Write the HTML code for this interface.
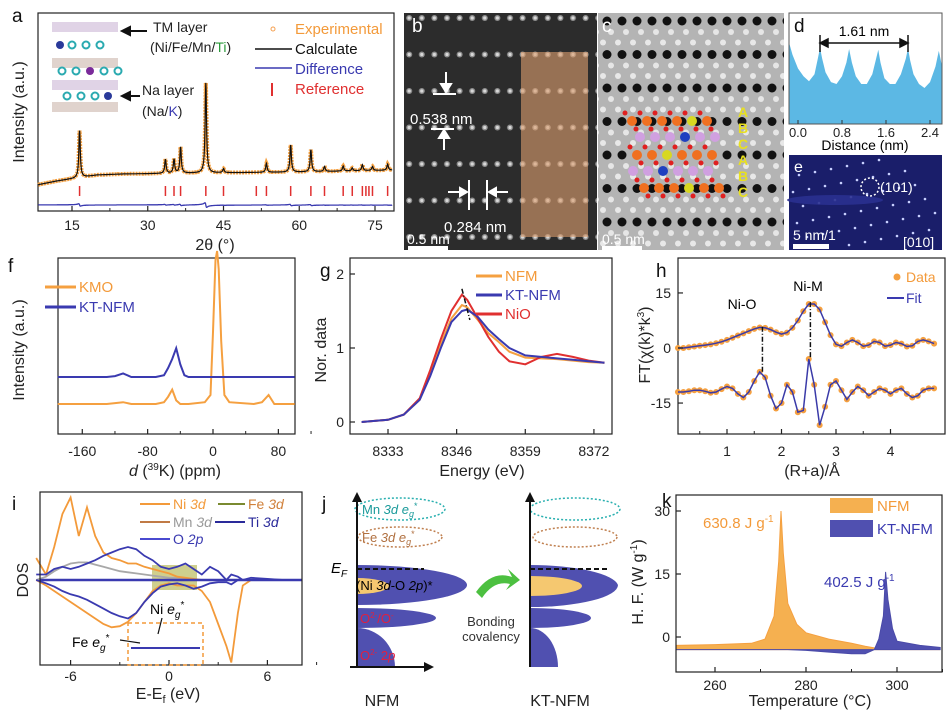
<!DOCTYPE html>
<html><head><meta charset="utf-8"><style>
html,body{margin:0;padding:0;background:#fff;}
svg{display:block;font-family:"Liberation Sans",Arial,sans-serif;}
.t{font-size:14px;fill:#222;}
.lab{font-size:16px;fill:#222;}
.pl{font-size:19px;fill:#111;}
</style></head><body>
<svg id="fig" xmlns="http://www.w3.org/2000/svg" width="950" height="720" viewBox="0 0 950 720">
<defs>
<pattern id="bdots" x="0" y="0" width="12.6" height="36.5" patternUnits="userSpaceOnUse"><circle cx="6" cy="18" r="3" fill="#8f8f8f"/><circle cx="6" cy="18" r="1.6" fill="#d8d8d8"/></pattern>
<pattern id="cdots" x="0" y="4" width="15" height="33.5" patternUnits="userSpaceOnUse"><circle cx="7" cy="17" r="4.5" fill="#111"/><circle cx="3" cy="5" r="3" fill="#e8e8e8"/><circle cx="11" cy="28" r="3" fill="#e6e6e6"/></pattern>
</defs>

<!-- ============ Panel a ============ -->
<g>
<text class="pl" x="12" y="22">a</text>
<rect x="38" y="13" width="356" height="198" fill="none" stroke="#222" stroke-width="1.2"/>
<g id="aMarks"></g>
<text class="lab" transform="translate(24,112) rotate(-90)" text-anchor="middle">Intensity (a.u.)</text>
<text class="lab" x="215" y="250" text-anchor="middle">2θ (°)</text>
<g>
<rect x="52" y="22" width="66" height="10" fill="#d8c8e0" opacity="0.8"/>
<rect x="52" y="58" width="66" height="10" fill="#d8c8c0" opacity="0.8"/>
<rect x="52" y="80" width="66" height="10" fill="#d8c8e0" opacity="0.8"/>
<rect x="52" y="102" width="66" height="10" fill="#d8c8c0" opacity="0.8"/>
<g fill="none" stroke="#2aaab0" stroke-width="2">
<circle cx="72" cy="45" r="3.5"/><circle cx="86" cy="45" r="3.5"/><circle cx="100" cy="45" r="3.5"/>
<circle cx="62" cy="71" r="3.5"/><circle cx="76" cy="71" r="3.5"/><circle cx="104" cy="71" r="3.5"/><circle cx="118" cy="71" r="3.5"/>
<circle cx="67" cy="96" r="3.5"/><circle cx="81" cy="96" r="3.5"/><circle cx="95" cy="96" r="3.5"/></g>
<circle cx="60" cy="45" r="4" fill="#2a3a9a"/><circle cx="90" cy="71" r="4" fill="#7a2a9a"/><circle cx="108" cy="96" r="4" fill="#2a3a9a"/>
</g>
<g stroke="#111" stroke-width="2">
<line x1="147" y1="31" x2="128" y2="31"/><polygon points="122,31 130,27 130,35" fill="#111"/>
<line x1="140" y1="96" x2="128" y2="96"/><polygon points="122,96 130,92 130,100" fill="#111"/>
</g>
<text class="t" x="153" y="32" style="font-size:14px">TM layer</text>
<text class="t" x="150" y="52" style="font-size:14px">(Ni/Fe/Mn/<tspan fill="#2a9a3a">Ti</tspan>)</text>
<text class="t" x="142" y="95" style="font-size:14px">Na layer</text>
<text class="t" x="142" y="116" style="font-size:14px">(Na/<tspan fill="#3a3ab0">K</tspan>)</text>
<g style="font-size:15px">
<circle cx="273" cy="29" r="2" fill="none" stroke="#f5a050"/>
<text x="295" y="34" fill="#f39a3a">Experimental</text>
<line x1="255" y1="49" x2="292" y2="49" stroke="#111" stroke-width="1.5"/>
<text x="295" y="54" fill="#111">Calculate</text>
<line x1="255" y1="68" x2="292" y2="68" stroke="#3a3ab0" stroke-width="1.5"/>
<text x="295" y="74" fill="#3a3ab0">Difference</text>
<line x1="272" y1="83" x2="272" y2="96" stroke="#e03030" stroke-width="2"/>
<text x="295" y="94" fill="#e03030">Reference</text>
</g>
</g>

<!-- ============ Panel b ============ -->
<g>
<rect x="404" y="13" width="193" height="237" fill="#2c2c2c"/>
<rect x="404" y="13" width="193" height="237" fill="url(#bdots)"/>
<rect x="521" y="52" width="67" height="185" fill="#e0a070" opacity="0.6"/>
<text class="pl" x="412" y="32" fill="#fff" style="fill:#fff">b</text>
<g stroke="#fff" stroke-width="2" fill="#fff">
<line x1="446" y1="72" x2="446" y2="88"/><polygon points="441,84 451,84 446,92"/>
<line x1="433" y1="94" x2="456" y2="94"/>
<line x1="431" y1="129" x2="454" y2="129"/>
<line x1="444" y1="150" x2="444" y2="136"/><polygon points="439,138 449,138 444,130"/>
<line x1="469" y1="180" x2="469" y2="210"/><line x1="487" y1="180" x2="487" y2="210"/>
<line x1="448" y1="192" x2="462" y2="192"/><polygon points="460,188 460,196 467,192"/>
<line x1="508" y1="192" x2="494" y2="192"/><polygon points="496,188 496,196 489,192"/>
</g>
<text x="410" y="124" fill="#fff" style="font-size:15px">0.538 nm</text>
<text x="444" y="232" fill="#fff" style="font-size:15px">0.284 nm</text>
<text x="407" y="244" fill="#fff" style="font-size:14px">0.5 nm</text>
<rect x="408" y="246" width="40" height="4" fill="#fff"/>
</g>

<!-- ============ Panel c ============ -->
<g>
<rect x="598" y="13" width="186" height="237" fill="#b4b4b4"/>
<rect x="598" y="13" width="186" height="237" fill="url(#cdots)"/>
<g id="cAtoms"></g>
<g fill="#e8e020" style="font-size:14px;font-weight:bold">
<text x="738" y="117">A</text><text x="738" y="133">B</text><text x="738" y="149">C</text><text x="738" y="165">A</text><text x="738" y="181">B</text><text x="738" y="197">C</text></g>
<text class="pl" x="602" y="32" style="fill:#fff">c</text>
<text x="602" y="244" fill="#fff" style="font-size:14px">0.5 nm</text>
<rect x="602" y="246" width="40" height="4" fill="#fff"/>
</g>

<!-- ============ Panel d ============ -->
<g>
<g id="dMarks"></g>
<rect x="789" y="13" width="153" height="111" fill="none" stroke="#555" stroke-width="1"/>
<text class="pl" x="794" y="32">d</text>
<g stroke="#111" stroke-width="1.5" fill="#111">
<line x1="822" y1="43" x2="906" y2="43"/><polygon points="820,43 828,39 828,47"/><polygon points="908,43 900,39 900,47"/>
<line x1="820" y1="35" x2="820" y2="52"/><line x1="908" y1="35" x2="908" y2="52"/></g>
<text x="864" y="36" text-anchor="middle" style="font-size:14px">1.61 nm</text>
<g id="dTicks" class="t" style="font-size:13px"></g>
<text x="865" y="150" text-anchor="middle" style="font-size:14px">Distance (nm)</text>
</g>

<!-- ============ Panel e ============ -->
<g>
<rect x="789" y="155" width="153" height="95" fill="#1a1e6a"/>
<g id="eSpots"></g>
<ellipse cx="835" cy="200" rx="48" ry="5" fill="#2a3090" opacity="0.9"/>
<circle cx="870" cy="187" r="9" fill="none" stroke="#fff" stroke-width="1.5" stroke-dasharray="2,2"/>
<text x="880" y="192" fill="#fff" style="font-size:14px">(101)</text>
<text class="pl" x="794" y="172" style="fill:#fff;font-size:16px">e</text>
<text x="793" y="240" fill="#fff" style="font-size:14px">5 nm/1</text>
<rect x="793" y="244" width="36" height="5" fill="#fff"/>
<text x="903" y="247" fill="#fff" style="font-size:14px">[010]</text>
</g>

<!-- ============ Panel f ============ -->
<g>
<text class="pl" x="8" y="272">f</text>
<rect x="58" y="258" width="237" height="176" fill="none" stroke="#222" stroke-width="1.2"/>
<g id="fMarks"></g>
<text class="lab" transform="translate(24,350) rotate(-90)" text-anchor="middle">Intensity (a.u.)</text>
<text class="lab" x="175" y="476" text-anchor="middle"><tspan font-style="italic">d</tspan> (<tspan dy="-6" style="font-size:10px">39</tspan><tspan dy="6">K) (ppm)</tspan></text>
<line x1="45" y1="287" x2="76" y2="287" stroke="#f5a040" stroke-width="3"/>
<text x="79" y="292" fill="#f39a3a" style="font-size:15px">KMO</text>
<line x1="45" y1="307" x2="76" y2="307" stroke="#3a3ab0" stroke-width="3"/>
<text x="79" y="312" fill="#3a3ab0" style="font-size:15px">KT-NFM</text>
</g>

<!-- ============ Panel g ============ -->
<g>
<text class="pl" x="320" y="277">g</text>
<rect x="350" y="258" width="262" height="176" fill="none" stroke="#222" stroke-width="1.2"/>
<g id="gMarks"></g>
<text class="lab" transform="translate(326,350) rotate(-90)" text-anchor="middle">Nor. data</text>
<text class="lab" x="482" y="476" text-anchor="middle">Energy (eV)</text>
<line x1="476" y1="276" x2="502" y2="276" stroke="#f5a040" stroke-width="3"/>
<text x="505" y="281" fill="#f39a3a" style="font-size:15px">NFM</text>
<line x1="476" y1="295" x2="502" y2="295" stroke="#3a3ab0" stroke-width="3"/>
<text x="505" y="300" fill="#3a3ab0" style="font-size:15px">KT-NFM</text>
<line x1="476" y1="314" x2="502" y2="314" stroke="#e03030" stroke-width="3"/>
<text x="505" y="319" fill="#e03030" style="font-size:15px">NiO</text>
</g>

<!-- ============ Panel h ============ -->
<g>
<text class="pl" x="656" y="277">h</text>
<rect x="678" y="258" width="267" height="176" fill="none" stroke="#222" stroke-width="1.2"/>
<g id="hMarks"></g>
<text class="lab" transform="translate(650,345) rotate(-90)" text-anchor="middle">FT(χ(k)*k<tspan dy="-6" style="font-size:10px">3</tspan><tspan dy="6">)</tspan></text>
<text class="lab" x="812" y="476" text-anchor="middle">(R+a)/Å</text>
<text x="742" y="309" text-anchor="middle" style="font-size:14px">Ni-O</text>
<text x="808" y="291" text-anchor="middle" style="font-size:14px">Ni-M</text>
<circle cx="897" cy="277" r="3.5" fill="#f5a040"/>
<text x="906" y="282" fill="#f39a3a" style="font-size:14px">Data</text>
<line x1="887" y1="298" x2="904" y2="298" stroke="#3a3ab0" stroke-width="2"/>
<text x="906" y="303" fill="#3a3ab0" style="font-size:14px">Fit</text>
</g>

<!-- ============ Panel i ============ -->
<g>
<text class="pl" x="12" y="510">i</text>
<rect x="152" y="565" width="45" height="25" fill="#a8a830" opacity="0.55"/>
<g id="iMarks"></g>
<rect x="40" y="492" width="262" height="173" fill="none" stroke="#222" stroke-width="1.2"/>
<rect x="128" y="623" width="75" height="42" fill="none" stroke="#f39a3a" stroke-width="1.5" stroke-dasharray="4,3"/>
<line x1="131" y1="648" x2="200" y2="648" stroke="#3a3ab0" stroke-width="2"/>
<text class="lab" transform="translate(28,580) rotate(-90)" text-anchor="middle">DOS</text>
<text class="lab" x="168" y="699" text-anchor="middle">E-E<tspan dy="4" style="font-size:11px">f</tspan><tspan dy="-4"> (eV)</tspan></text>
<text x="150" y="614" style="font-size:14px">Ni <tspan font-style="italic">e</tspan><tspan dy="4" style="font-size:10px" font-style="italic">g</tspan><tspan dy="-10" style="font-size:10px">*</tspan></text>
<text x="72" y="647" style="font-size:14px">Fe <tspan font-style="italic">e</tspan><tspan dy="4" style="font-size:10px" font-style="italic">g</tspan><tspan dy="-10" style="font-size:10px">*</tspan></text>
<line x1="162" y1="618" x2="158" y2="634" stroke="#111" stroke-width="1.2"/>
<line x1="120" y1="640" x2="140" y2="643" stroke="#111" stroke-width="1.2"/>
<g style="font-size:14px">
<line x1="140" y1="504" x2="170" y2="504" stroke="#f39a3a" stroke-width="2"/><text x="173" y="509" fill="#f39a3a">Ni <tspan font-style="italic">3d</tspan></text>
<line x1="218" y1="504" x2="245" y2="504" stroke="#7a8a30" stroke-width="2"/><text x="248" y="509" fill="#d0803a">Fe <tspan font-style="italic">3d</tspan></text>
<line x1="140" y1="522" x2="170" y2="522" stroke="#c07a45" stroke-width="2"/><text x="173" y="527" fill="#999">Mn <tspan font-style="italic">3d</tspan></text>
<line x1="215" y1="522" x2="245" y2="522" stroke="#2a2a9a" stroke-width="2"/><text x="248" y="527" fill="#2a2a9a">Ti <tspan font-style="italic">3d</tspan></text>
<line x1="140" y1="539" x2="170" y2="539" stroke="#4a4ad0" stroke-width="2"/><text x="173" y="544" fill="#3a3ab0">O <tspan font-style="italic">2p</tspan></text>
</g>
</g>

<!-- ============ Panel j ============ -->
<g>
<text class="pl" x="322" y="510">j</text>
<g>
<path d="M357,565 A110,20 0 0 1 467,585 A110,20 0 0 1 357,605 Z" fill="#5050b0"/>
<path d="M357,578 A32,8 0 0 1 389,586 A32,8 0 0 1 357,594 Z" fill="#f5c870"/>
<path d="M357,608 A79,10 0 0 1 436,618 A79,10 0 0 1 357,628 Z" fill="#5050b0"/>
<path d="M357,628 A38,39 0 0 1 395,667 L357,667 Z" fill="#5050b0"/>
<ellipse cx="400" cy="509" rx="45" ry="11" fill="none" stroke="#2ab0b0" stroke-width="1.5" stroke-dasharray="2,2"/>
<ellipse cx="400" cy="537" rx="42" ry="10" fill="none" stroke="#c08050" stroke-width="1.5" stroke-dasharray="2,2"/>
<line x1="357" y1="569" x2="424" y2="569" stroke="#111" stroke-width="2" stroke-dasharray="5,3"/>
<line x1="357" y1="667" x2="357" y2="498" stroke="#111" stroke-width="2"/><polygon points="357,492 352,502 362,502" fill="#111"/>
<line x1="350" y1="667" x2="428" y2="667" stroke="#111" stroke-width="2"/><polygon points="434,667 424,662 424,672" fill="#111"/>
<text x="362" y="514" fill="#1a9a9a" style="font-size:13px">Mn <tspan font-style="italic">3d e</tspan><tspan dy="3" style="font-size:9px" font-style="italic">g</tspan><tspan dy="-8" style="font-size:9px">*</tspan></text>
<text x="362" y="542" fill="#b07040" style="font-size:13px">Fe <tspan font-style="italic">3d e</tspan><tspan dy="3" style="font-size:9px" font-style="italic">g</tspan><tspan dy="-8" style="font-size:9px">*</tspan></text>
<text x="331" y="573" style="font-size:15px;font-style:italic">E<tspan dy="4" style="font-size:10px">F</tspan></text>
<text x="356" y="590" style="font-size:13px">(Ni <tspan font-style="italic">3d</tspan>-O <tspan font-style="italic">2p</tspan>)*</text>
<text x="360" y="623" fill="#e02040" style="font-size:13px">O<tspan dy="-5" style="font-size:8px">2-</tspan><tspan dy="5">/O</tspan><tspan dy="-5" style="font-size:8px">-</tspan></text>
<text x="360" y="660" fill="#e02040" style="font-size:13px">O<tspan dy="-5" style="font-size:8px">2-</tspan><tspan dy="5"> 2</tspan><tspan font-style="italic">p</tspan></text>
<text x="382" y="706" text-anchor="middle" class="lab">NFM</text>
</g>
<path d="M476,592 Q492,570 512,577 L508,569 L520,580 L506,590 L510,584 Q494,580 482,598 Z" fill="#4cc040"/>
<text x="491" y="626" text-anchor="middle" style="font-size:13px;fill:#333">Bonding</text>
<text x="491" y="641" text-anchor="middle" style="font-size:13px;fill:#333">covalency</text>
<g>
<path d="M530,565 A88,22 0 0 1 618,585 A88,22 0 0 1 530,607 Z" fill="#5050b0"/>
<path d="M530,576 A52,10 0 0 1 582,586 A52,10 0 0 1 530,596 Z" fill="#f5c870"/>
<path d="M530,608 A61,10 0 0 1 591,618 A61,10 0 0 1 530,628 Z" fill="#5050b0"/>
<path d="M530,628 A28,39 0 0 1 558,667 L530,667 Z" fill="#5050b0"/>
<ellipse cx="575" cy="509" rx="45" ry="11" fill="none" stroke="#2ab0b0" stroke-width="1.5" stroke-dasharray="2,2"/>
<ellipse cx="575" cy="537" rx="42" ry="10" fill="none" stroke="#c08050" stroke-width="1.5" stroke-dasharray="2,2"/>
<line x1="530" y1="569" x2="610" y2="569" stroke="#111" stroke-width="2" stroke-dasharray="5,3"/>
<line x1="530" y1="667" x2="530" y2="498" stroke="#111" stroke-width="2"/><polygon points="530,492 525,502 535,502" fill="#111"/>
<text x="560" y="706" text-anchor="middle" class="lab">KT-NFM</text>
</g>
</g>

<!-- ============ Panel k ============ -->
<g>
<text class="pl" x="662" y="507">k</text>
<g id="kMarks"></g>
<rect x="676" y="495" width="266" height="177" fill="none" stroke="#222" stroke-width="1.2"/>
<text class="lab" transform="translate(643,582) rotate(-90)" text-anchor="middle">H. F. (W g<tspan dy="-6" style="font-size:10px">-1</tspan><tspan dy="6">)</tspan></text>
<text class="lab" x="810" y="706" text-anchor="middle">Temperature (°C)</text>
<rect x="830" y="498" width="43" height="15" fill="#f5b050"/>
<text x="877" y="511" fill="#f39a3a" style="font-size:15px">NFM</text>
<rect x="830" y="520" width="43" height="17" fill="#5050b0"/>
<text x="877" y="534" fill="#3a3ab0" style="font-size:15px">KT-NFM</text>
<text x="703" y="528" fill="#f39a3a" style="font-size:15px">630.8 J g<tspan dy="-6" style="font-size:10px">-1</tspan></text>
<text x="824" y="587" fill="#3a3ab0" style="font-size:15px">402.5 J g<tspan dy="-6" style="font-size:10px">-1</tspan></text>
</g>
</svg>

<script>
// ---------- Panel a data (XRD) ----------
const xrdBgPos = [8, 12, 16, 20, 25, 40, 60, 79];
const xrdBgVal = [26, 30, 33, 36, 37, 38, 39, 41];
const xrdPeakPos = [16.5, 33.5, 35.2, 36.5, 41.5, 45, 53.5, 58.3, 62.3, 65, 68.7, 70.5, 72.5, 74.5, 77.5];
const xrdPeakHt = [47, 14, 14, 26, 90, 4, 9, 27, 22, 5, 5, 3, 6, 4, 6];
const xrdRefPos = [16.5, 33.5, 35.2, 36.5, 41.5, 45, 51.5, 53.5, 58.3, 62.3, 65, 68.7, 70.5, 72.5, 73.2, 73.8, 74.5, 77.5];
const xrdTicks = [15, 30, 45, 60, 75];
// ---------- Panel d ----------
const profDist = [-0.16,-0.1,0,0.1,0.2,0.3,0.36,0.4,0.44,0.5,0.6,0.7,0.8,0.88,0.93,0.98,1.05,1.15,1.25,1.35,1.42,1.46,1.5,1.57,1.67,1.77,1.87,1.96,2.0,2.04,2.1,2.2,2.3,2.4,2.5,2.56,2.62];
const profVal = [1.1,0.8,0.45,0.25,0.12,0.3,0.7,0.98,0.7,0.35,0.1,0.05,0.25,0.6,0.95,0.6,0.25,0.05,0.05,0.3,0.7,0.93,0.6,0.2,0.05,0.05,0.3,0.7,0.97,0.65,0.3,0.05,-0.05,0.1,0.5,0.9,0.5];
const profTicks = [0.0, 0.8, 1.6, 2.4];
// ---------- Panel f ----------
const nmrPpm = [-190,-130,-120,-110,-100,-70,-60,-55,-50,-45,-40,-35,-30,-10,-3,0,3,5,7,10,14,20,50,60,68,75,100];
const nmrKMO = [20,20,20.5,21,20,20,21,24,28,22,20,20,20,21,25,60,100,105,95,55,25,21,20,21,25,20,20];
const nmrKT = [35,35,35.5,37,35,35,36,40,45,51,42,36,35,35,35,35,35,35,35,35,35,35,35,35,35,35,35];
const nmrTicks = [-160, -80, 0, 80];
// ---------- Panel g ----------
const xasE = [8328,8333,8336,8339,8341,8343,8345,8347,8348,8350,8352,8354,8356,8359,8362,8365,8368,8371,8374];
const xasNFM = [0,0.03,0.1,0.3,0.65,1.05,1.4,1.58,1.55,1.38,1.2,1.08,0.95,0.87,0.86,0.85,0.83,0.81,0.8];
const xasKT = [0,0.03,0.1,0.3,0.62,1.0,1.35,1.5,1.52,1.42,1.25,1.12,1.0,0.9,0.88,0.86,0.84,0.82,0.8];
const xasNiO = [0,0.03,0.1,0.32,0.7,1.12,1.5,1.72,1.65,1.4,1.15,0.95,0.82,0.78,0.88,0.92,0.88,0.83,0.8];
const xasXTicks = [8333, 8346, 8359, 8372];
const xasYTicks = [0, 1, 2];
// ---------- Panel h ----------
const exR = [0.1,0.2,0.3,0.4,0.5,0.6,0.7,0.8,0.9,1.0,1.1,1.2,1.3,1.4,1.5,1.6,1.7,1.8,1.9,2.0,2.1,2.2,2.3,2.4,2.5,2.6,2.7,2.8,2.9,3.0,3.1,3.2,3.3,3.4,3.5,3.6,3.7,3.8,3.9,4.0,4.1,4.2,4.3,4.4,4.5,4.6,4.7,4.8];
const exMag = [0,0,0.2,0.4,0.6,0.8,1.0,1.3,1.7,2.2,2.8,3.4,4.0,4.6,5.2,5.6,5.5,5.0,4.3,3.8,4.2,5.5,7.5,10,12,12,10.5,7,3.5,1.0,0.5,1.5,2.2,1.5,0.5,0.8,1.8,1.5,0.5,0.8,1.5,1.2,0.4,0.6,1.8,2.2,1.8,1.2];
const exIm = [-12,-12,-11.8,-11.5,-11.5,-11.8,-12.2,-12,-11.2,-10.5,-11,-12.5,-13.5,-12,-9,-6.5,-8,-13,-16.5,-15,-10,-12,-17.5,-17,-3,-10,-21,-16,-10,-9,-11.5,-14,-12,-10.5,-11.5,-13,-12,-11,-11.5,-12.5,-11.5,-11,-12.5,-13.5,-13,-11.5,-11,-11];
const exXTicks = [1, 2, 3, 4];
const exYTicks = [15, 0, -15];
// ---------- Panel i ----------
const dosE = [-8.1,-7.5,-7,-6.5,-6,-5.5,-5,-4.5,-4,-3.5,-3,-2.5,-2,-1.5,-1,-0.5,0,0.5,1,1.5,2,2.5,3,3.5,3.8,4.2,4.5,5,6,7,7.8];
const dosNiUp = [2,0.5,3,6,7.5,4,6.6,4,2.5,2,1.8,1.5,1.5,1.2,1,0.8,0.6,0.3,0.2,0.1,0,0,0,0,0,0,0,0,0,0,0];
const dosNiDn = [0,-0.5,-1,-1.5,-2,-2.5,-3,-3.5,-4,-4.3,-4.2,-3.8,-3,-2,-1,-0.5,-0.3,-0.5,-0.5,-0.5,-1,-2,-4,-6,-7.5,-3,-0.5,0,0,0,0];
const dosOUp = [0.5,0.5,1,1.2,1,1.2,1.5,1.8,2.2,2.5,2.8,3,2.8,2.2,1.8,1.2,1,1.2,1.5,1,0.5,1.2,0.8,0,0.5,0.3,0,0.2,0.1,0,0];
const dosODn = [0,-0.3,-0.6,-1,-1.3,-1.5,-1.8,-2.2,-2.6,-3,-3.3,-3.5,-3,-2,-1.2,-0.6,-0.4,-0.3,-0.5,-0.8,-0.6,-0.3,-0.2,-0.2,-0.4,0,0,0,0,0,0];
const dosMnUp = [0,0.3,0.8,1.2,1.5,1.6,1.6,1.4,1.2,1.0,0.8,0.7,0.6,0.5,0.4,0.3,0.2,0.2,0.1,0,0,0,0,0,0,0,0,0,0,0,0];
const dosXTicks = [-6, 0, 6];
// ---------- Panel k ----------
const dscT = [251.5,260,268,271,273,274,274.5,275,276,278,280,285,290,293,295,296,297,297.5,298,299,300,305,309.5];
const dscNFM = [-2,-1.8,-1.5,-0.5,5,18,30,20,8,3,1,-0.5,-1.5,-2.2,-2.6,-2.8,-3,-3,-3,-3,-3,-3,-3];
const dscKT = [-3,-3,-3,-3,-3,-3,-3,-3,-3,-3.1,-3.2,-3.6,-4,-4,-3,-0.5,5,15.5,9,2,-1,-2,-2.5];
const dscXTicks = [260, 280, 300];
const dscYTicks = [30, 15, 0];
const dscBase = -3;

// ---------- helpers ----------
const NS = 'http://www.w3.org/2000/svg';
function mk(tag, attrs, parent) {
  const e = document.createElementNS(NS, tag);
  for (const k in attrs) e.setAttribute(k, attrs[k]);
  parent.appendChild(e);
  return e;
}
function pathD(xs, ys, fx, fy) {
  return xs.map((x, i) => (i ? 'L' : 'M') + fx(x).toFixed(1) + ',' + fy(ys[i]).toFixed(1)).join('');
}
function interp(xs, ys, x) {
  if (x <= xs[0]) return ys[0];
  for (let i = 1; i < xs.length; i++) if (x <= xs[i]) { const t = (x - xs[i-1]) / (xs[i] - xs[i-1]); return ys[i-1] + t * (ys[i] - ys[i-1]); }
  return ys[ys.length - 1];
}

// ---------- Panel a ----------
(function(){
  const g = document.getElementById('aMarks');
  const xA = d => 72 + (d - 15) * 5.05;
  const yA = v => 211 - v;
  const xs = [], ys = [], dy = [];
  for (let d = 8.3; d <= 78.4; d += 0.05) {
    let v = interp(xrdBgPos, xrdBgVal, d);
    let df = 0;
    xrdPeakPos.forEach((p, i) => { const u = (d - p) / 0.17; v += xrdPeakHt[i] / (1 + u * u); df += xrdPeakHt[i] * 0.05 * (-u) / (1 + u * u); });
    xs.push(d); ys.push(v); dy.push(6 + df);
  }
  let el = mk('path', {d: pathD(xs, ys, xA, yA), fill: 'none', stroke: '#f5a040', 'stroke-width': 4, 'stroke-dasharray': '2,1'}, g);
  
  
  el = mk('path', {d: pathD(xs, ys, xA, yA), fill: 'none', stroke: '#111', 'stroke-width': 1.2}, g);
  
  
  el = mk('path', {d: pathD(xs, dy, xA, yA), fill: 'none', stroke: '#3a3ab0', 'stroke-width': 1.3}, g);
  
  
  xrdRefPos.forEach(p => {
    const r = mk('line', {x1: xA(p), x2: xA(p), y1: 186, y2: 196, stroke: '#e03030', 'stroke-width': 1.5}, g);
    
    
  });
  xrdTicks.forEach(t => {
    mk('line', {x1: xA(t), x2: xA(t), y1: 211, y2: 206, stroke: '#222', 'stroke-width': 1.2}, g);
    mk('line', {x1: xA(t + 7.5), x2: xA(t + 7.5), y1: 211, y2: 208, stroke: '#222', 'stroke-width': 1}, g);
    const tx = mk('text', {x: xA(t), y: 230, 'text-anchor': 'middle', class: 't'}, g);
    tx.textContent = t;
    
    
  });
})();

// ---------- Panel c atoms ----------
(function(){
  const g = document.getElementById('cAtoms');
  const rows = [[121, 632, '#f07020', 4, 'y'], [137, 640, '#d0a0e0', 3, 'b'], [155, 637, '#f07020', 2, 'y'], [171, 633, '#d0a0e0', 2, 'b'], [188, 644, '#f07020', 3, 'y']];
  rows.forEach(r => {
    for (let k = 0; k < 6; k++) {
      const cx = r[1] + k * 15;
      let col = r[2];
      if (k === r[3]) col = r[4] === 'y' ? '#d8d820' : '#2040c0';
      mk('circle', {cx: cx, cy: r[0], r: 5, fill: col}, g);
      if (r[2] === '#f07020') { mk('circle', {cx: cx - 7, cy: r[0] - 8, r: 2.5, fill: '#e02020'}, g); mk('circle', {cx: cx + 4, cy: r[0] + 8, r: 2.5, fill: '#e02020'}, g); }
    }
  });
})();

// ---------- Panel d ----------
(function(){
  const g = document.getElementById('dMarks');
  const xD = d => 798 + d * 55;
  const yD = v => 86 - v * 39;
  const d = pathD(profDist, profVal, xD, yD) + 'L' + xD(2.62) + ',124L' + xD(-0.16) + ',124Z';
  const el = mk('path', {d: d, fill: '#5cb8e4'}, g);
  
  
  const gt = document.getElementById('dTicks');
  profTicks.forEach(t => {
    mk('line', {x1: xD(t), x2: xD(t), y1: 124, y2: 120, stroke: '#333'}, gt);
    const tx = mk('text', {x: xD(t), y: 137, 'text-anchor': 'middle'}, gt);
    tx.textContent = t.toFixed(1);
    
    
  });
})();

// ---------- Panel e spots ----------
(function(){
  const g = document.getElementById('eSpots');
  for (let a = -4; a <= 5; a++) for (let b = -3; b <= 3; b++) {
    const x = 835 + a * 16 + b * 10, y = 200 + b * 14 - a * 3;
    if (x > 792 && x < 940 && y > 158 && y < 247) mk('circle', {cx: x, cy: y, r: 1.3, fill: '#c8d0ff'}, g);
  }
})();

// ---------- Panel f ----------
(function(){
  const g = document.getElementById('fMarks');
  const xF = p => 213 + p * 0.817;
  const yF = v => 440 - v * 1.8;
  let el = mk('path', {d: pathD(nmrPpm, nmrKMO, xF, yF), fill: 'none', stroke: '#f5a040', 'stroke-width': 2}, g);
  
  
  el = mk('path', {d: pathD(nmrPpm, nmrKT, xF, yF), fill: 'none', stroke: '#3a3ab0', 'stroke-width': 2}, g);
  
  
  nmrTicks.forEach(t => {
    mk('line', {x1: xF(t), x2: xF(t), y1: 434, y2: 429, stroke: '#222', 'stroke-width': 1.2}, g);
    mk('line', {x1: xF(t + 40), x2: xF(t + 40), y1: 434, y2: 431, stroke: '#222'}, g);
    const tx = mk('text', {x: xF(t), y: 456, 'text-anchor': 'middle', class: 't'}, g);
    tx.textContent = t;
    
    
  });
})();

// ---------- Panel g ----------
(function(){
  const g = document.getElementById('gMarks');
  const xG = e => 388 + (e - 8333) * 5.28;
  const yG = v => 422 - v * 74;
  [[xasNFM, '#f5a040', 'nfm-series'], [xasNiO, '#e03030', 'nio-series'], [xasKT, '#3a3ab0', 'kt-nfm-series-g']].forEach(s => {
    const el = mk('path', {d: pathD(xasE, s[0], xG, yG), fill: 'none', stroke: s[1], 'stroke-width': 2}, g);
    
    
  });
  mk('line', {x1: xG(8347), y1: yG(1.8), x2: xG(8348.5), y2: yG(1.38), stroke: '#111', 'stroke-width': 1.5, 'stroke-dasharray': '5,2,1,2'}, g);
  xasXTicks.forEach(t => {
    mk('line', {x1: xG(t), x2: xG(t), y1: 434, y2: 429, stroke: '#222', 'stroke-width': 1.2}, g);
    const tx = mk('text', {x: xG(t), y: 456, 'text-anchor': 'middle', class: 't'}, g);
    tx.textContent = t;
    
    
  });
  xasYTicks.forEach(t => {
    mk('line', {x1: 350, x2: 355, y1: yG(t), y2: yG(t), stroke: '#222', 'stroke-width': 1.2}, g);
    const tx = mk('text', {x: 344, y: yG(t) + 5, 'text-anchor': 'end', class: 't'}, g);
    tx.textContent = t;
    
    
  });
})();

// ---------- Panel h ----------
(function(){
  const g = document.getElementById('hMarks');
  const xH = r => 727 + (r - 1) * 54.5;
  const yH = v => 348 - v * 3.67;
  [exMag, exIm].forEach((s, j) => {
    s.forEach((v, i) => {
      const c = mk('circle', {cx: xH(exR[i]), cy: yH(v), r: 3, fill: '#f5a040'}, g);
      
      
    });
    const el = mk('path', {d: pathD(exR, s, xH, yH), fill: 'none', stroke: '#3a3aa8', 'stroke-width': 1.5}, g);
    
    
  });
  mk('line', {x1: xH(1.65), x2: xH(1.65), y1: yH(5.8), y2: yH(-6.5), stroke: '#111', 'stroke-width': 1.5, 'stroke-dasharray': '5,2,1,2'}, g);
  mk('line', {x1: xH(2.53), x2: xH(2.53), y1: yH(12.5), y2: yH(-3), stroke: '#111', 'stroke-width': 1.5, 'stroke-dasharray': '5,2,1,2'}, g);
  exXTicks.forEach(t => {
    mk('line', {x1: xH(t), x2: xH(t), y1: 434, y2: 429, stroke: '#222', 'stroke-width': 1.2}, g);
    mk('line', {x1: xH(t - 0.5), x2: xH(t - 0.5), y1: 434, y2: 431, stroke: '#222'}, g);
    const tx = mk('text', {x: xH(t), y: 456, 'text-anchor': 'middle', class: 't'}, g);
    tx.textContent = t;
    
    
  });
  exYTicks.forEach(t => {
    mk('line', {x1: 678, x2: 683, y1: yH(t), y2: yH(t), stroke: '#222', 'stroke-width': 1.2}, g);
    const tx = mk('text', {x: 671, y: yH(t) + 5, 'text-anchor': 'end', class: 't'}, g);
    tx.textContent = t;
    
    
  });
})();

// ---------- Panel i ----------
(function(){
  const g = document.getElementById('iMarks');
  const xI = e => 169 + e * 16.4;
  const yI = v => 580 - v * 11;
  [[dosMnUp, '#a8a8a8', 'mn-up-series'], [dosNiUp, '#f39a3a', 'ni-up-series'], [dosNiDn, '#f39a3a', 'ni-down-series'], [dosOUp, '#3a3ab0', 'o-up-series'], [dosODn, '#3a3ab0', 'o-down-series']].forEach(s => {
    const el = mk('path', {d: pathD(dosE, s[0], xI, yI), fill: 'none', stroke: s[1], 'stroke-width': 1.8}, g);
    
    
  });
  mk('line', {x1: 40, x2: 302, y1: 580, y2: 580, stroke: '#3a3ab0', 'stroke-width': 2.5}, g);
  dosXTicks.forEach(t => {
    mk('line', {x1: xI(t), x2: xI(t), y1: 665, y2: 660, stroke: '#222', 'stroke-width': 1.2}, g);
    mk('line', {x1: xI(t + 3), x2: xI(t + 3), y1: 665, y2: 662, stroke: '#222'}, g);
    const tx = mk('text', {x: xI(t), y: 681, 'text-anchor': 'middle', class: 't'}, g);
    tx.textContent = t;
    
    
  });
})();

// ---------- Panel k ----------
(function(){
  const g = document.getElementById('kMarks');
  const xK = t => 715 + (t - 260) * 4.55;
  const yK = v => 637 - v * 4.2;
  const t0 = dscT[0], t1 = dscT[dscT.length - 1];
  let d = pathD(dscT, dscNFM, xK, yK) + 'L' + xK(t1).toFixed(1) + ',' + yK(dscBase).toFixed(1) + 'L' + xK(t0).toFixed(1) + ',' + yK(dscBase).toFixed(1) + 'Z';
  let el = mk('path', {d: d, fill: '#f5b050', stroke: '#f5a040', 'stroke-width': 1}, g);
  
  
  d = pathD(dscT, dscKT, xK, yK) + 'L' + xK(t1).toFixed(1) + ',' + yK(dscBase).toFixed(1) + 'L' + xK(t0).toFixed(1) + ',' + yK(dscBase).toFixed(1) + 'Z';
  el = mk('path', {d: d, fill: '#5050b0', stroke: '#4a4aa8', 'stroke-width': 1}, g);
  
  
  dscXTicks.forEach(t => {
    mk('line', {x1: xK(t), x2: xK(t), y1: 672, y2: 667, stroke: '#222', 'stroke-width': 1.2}, g);
    mk('line', {x1: xK(t + 10), x2: xK(t + 10), y1: 672, y2: 669, stroke: '#222'}, g);
    const tx = mk('text', {x: xK(t), y: 690, 'text-anchor': 'middle', class: 't'}, g);
    tx.textContent = t;
    
    
  });
  dscYTicks.forEach(t => {
    mk('line', {x1: 676, x2: 681, y1: yK(t), y2: yK(t), stroke: '#222', 'stroke-width': 1.2}, g);
    const tx = mk('text', {x: 670, y: yK(t) + 5, 'text-anchor': 'end', class: 't'}, g);
    tx.textContent = t;
    
    
  });
})();
</script>
</body></html>
